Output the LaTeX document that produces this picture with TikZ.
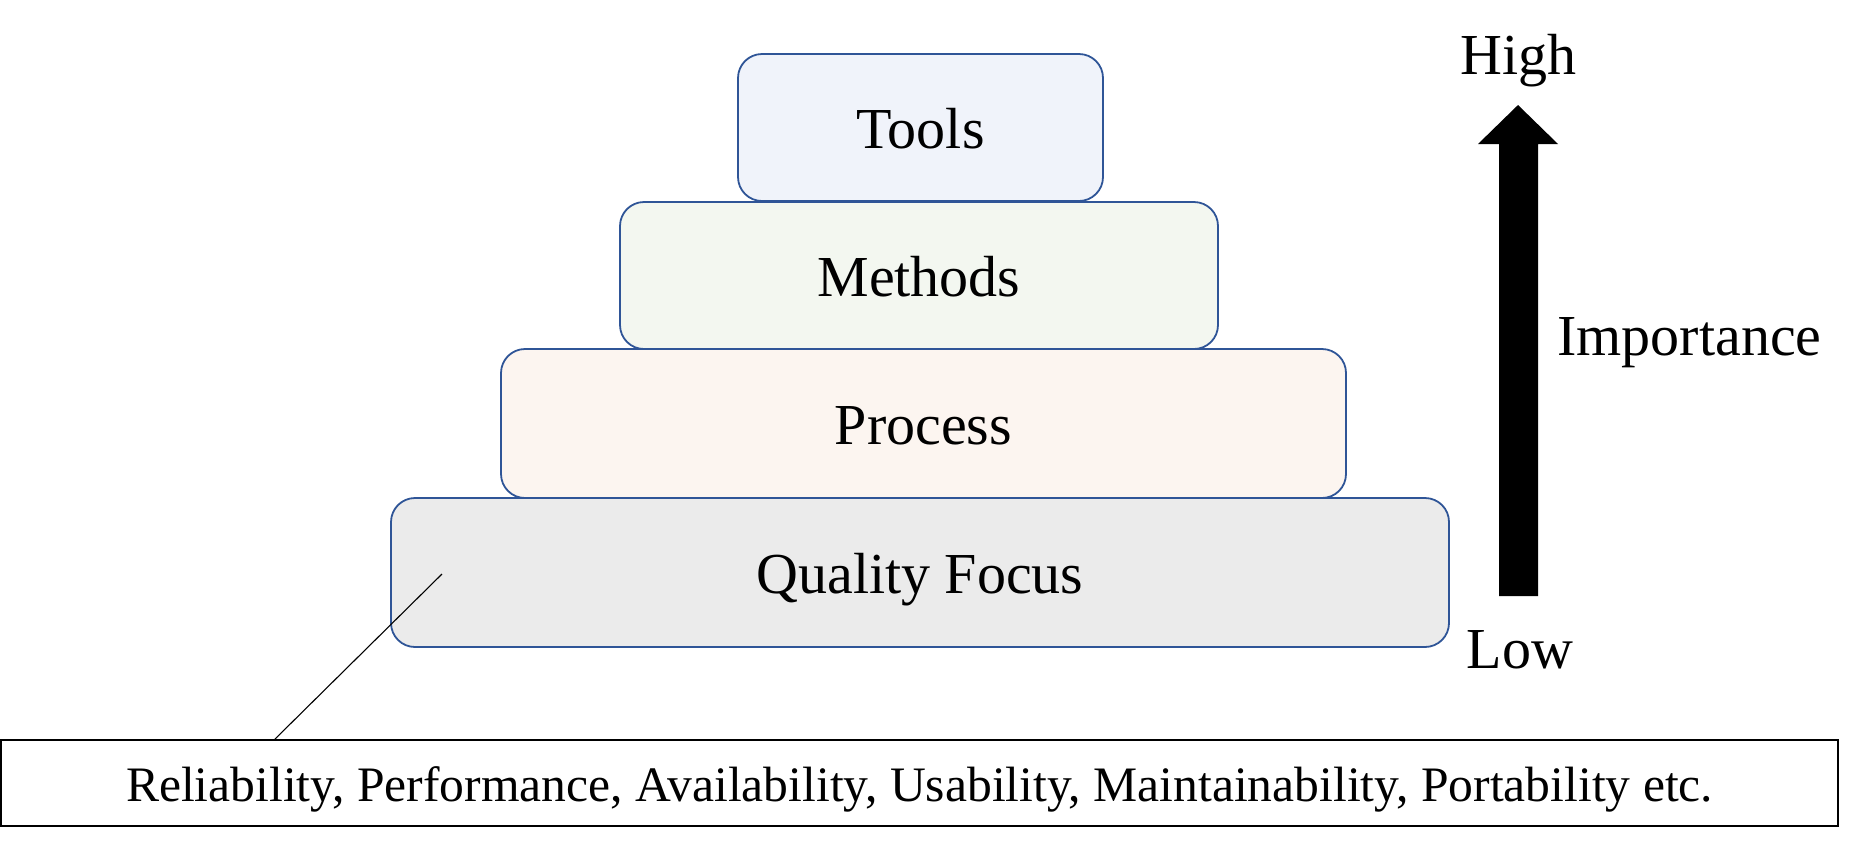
\documentclass[tikz,border=0pt]{standalone}
\usepackage{fontspec}
\setmainfont{Liberation Serif}
\definecolor{edgeblue}{HTML}{2F5597}
\definecolor{toolsfill}{HTML}{F0F3FA}
\definecolor{methodsfill}{HTML}{F3F7F0}
\definecolor{processfill}{HTML}{FCF5F0}
\definecolor{qffill}{HTML}{EBEBEB}
\begin{document}
\begin{tikzpicture}[x=0.5pt,y=-0.5pt,
  layer/.style={draw=edgeblue, line width=0.9pt, rounded corners=12pt,
    inner sep=0pt, text height=21pt, text depth=0pt,
    font=\fontsize{29}{34}\selectfont},
  attrbox/.style={draw=black, line width=0.75pt, inner sep=0pt,
    minimum width=918.5pt, minimum height=43pt,
    text height=18pt, text depth=0pt, font=\fontsize{24.8}{30}\selectfont},
  scalelabel/.style={font=\fontsize{29}{34}\selectfont, inner sep=0pt},
  leader/.style={draw=black, line width=0.55pt}]
\useasboundingbox (0,0) rectangle (1873,843);
\node[layer, fill=qffill, minimum width=529pt, minimum height=74.5pt] (qf) at (920,572.5) {Quality Focus};
\node[layer, fill=processfill, minimum width=422.5pt, minimum height=74.5pt] (process) at (923.5,423.5) {Process};
\node[layer, fill=methodsfill, minimum width=299pt, minimum height=73.5pt] (methods) at (919,275.5) {Methods};
\node[layer, fill=toolsfill, minimum width=182.5pt, minimum height=73.5pt] (tools) at (920.5,127.5) {Tools};
\node[attrbox] (attr) at (919.5,783) {Reliability, Performance, Availability, Usability, Maintainability, Portability etc.};
\coordinate (qfpt) at (442,574);
\coordinate (attrpt) at (274,740);
\draw[leader] (qfpt) -- (attrpt);
\fill[black] (1499,596) -- (1499,144) -- (1478,144) -- (1518,105) -- (1558,144) -- (1538,144) -- (1538,596) -- cycle;
\node[scalelabel, anchor=base] (high) at (1518.5,74) {High};
\node[scalelabel, anchor=base] (low) at (1520,668) {Low};
\node[scalelabel, anchor=base west] (imp) at (1557,355) {Importance};
\end{tikzpicture}
\end{document}
